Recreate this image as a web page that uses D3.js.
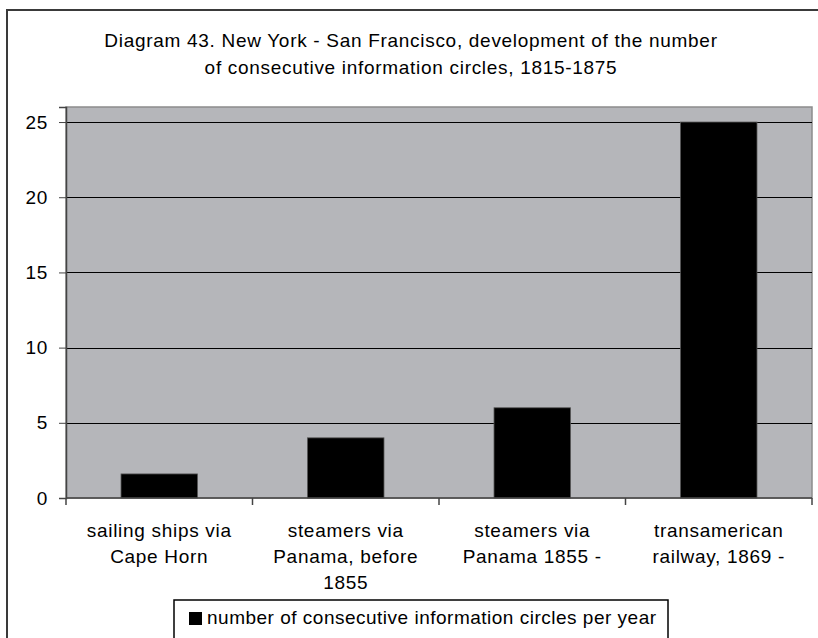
<!DOCTYPE html>
<html><head><meta charset="utf-8">
<script src="https://cdn.jsdelivr.net/npm/d3@7"></script>
<style>body{margin:0;background:#fff;overflow:hidden}svg{display:block}text{font-family:"Liberation Sans",Arial,sans-serif;fill:#000;letter-spacing:0.7px}</style>
</head><body>
<script>
const titleLines = ["Diagram 43. New York - San Francisco, development of the number","of consecutive information circles, 1815-1875"];
const categories = ["sailing ships via\nCape Horn","steamers via\nPanama, before\n1855","steamers via\nPanama 1855 -","transamerican\nrailway, 1869 -"];
const values = [1.6, 4, 6, 25];
const yTicks = [0,5,10,15,20,25];
const seriesName = "number of consecutive information circles per year";

const W=818,H=638,FS=19;
const svg=d3.select("body").append("svg").attr("width",W).attr("height",H);
// outer frame (right and bottom edges fall outside the picture)
svg.append("rect").attr("x",7).attr("y",10).attr("width",840).attr("height",660)
  .attr("fill","#fff").attr("stroke","#3a3a3a").attr("stroke-width",2);

const L=66,R=812,T=107,B=498;
const x=d3.scaleBand().domain(categories).range([L,R]).paddingInner(0.59).paddingOuter(0.295);
const y=d3.scaleLinear().domain([0,26]).range([B,T]);

svg.append("rect").attr("x",L).attr("y",T).attr("width",R-L).attr("height",B-T)
  .attr("fill","#b5b6ba").attr("stroke","#8c8c8c").attr("stroke-width",1.5);

// gridlines
svg.append("g").selectAll("line").data(yTicks.filter(d=>d>0)).join("line")
  .attr("x1",L).attr("x2",R).attr("y1",d=>Math.round(y(d))+0.5).attr("y2",d=>Math.round(y(d))+0.5)
  .attr("stroke","#000").attr("stroke-width",1);

// bars
svg.append("g").selectAll("rect").data(values).join("rect")
  .attr("x",(d,i)=>x(categories[i])).attr("width",x.bandwidth())
  .attr("y",d=>y(d)).attr("height",d=>B-y(d))
  .attr("fill","#000").attr("stroke","#555").attr("stroke-width",0.8);

// y axis
const yAxis=d3.axisLeft(y).tickValues(yTicks).tickSize(7).tickPadding(11);
const gy=svg.append("g").attr("transform",`translate(${L},0)`).call(yAxis);
gy.select(".domain").attr("stroke","#444").attr("stroke-width",1.5);
gy.selectAll(".tick line").attr("stroke","#444");
gy.selectAll("text").attr("font-size",FS).attr("font-family",null).style("fill","#000");

// x axis with ticks at category boundaries
const gx=svg.append("g").attr("transform",`translate(0,${B})`);
gx.append("line").attr("x1",L).attr("x2",R).attr("y1",0).attr("y2",0).attr("stroke","#444").attr("stroke-width",1.5);
const bounds=d3.range(categories.length+1).map(i=>L+i*(R-L)/categories.length);
gx.selectAll("line.tk").data(bounds).join("line").attr("class","tk")
  .attr("x1",d=>d).attr("x2",d=>d).attr("y1",0).attr("y2",7).attr("stroke","#444").attr("stroke-width",1.5);
const lab=gx.selectAll("text.cat").data(categories).join("text").attr("class","cat")
  .attr("text-anchor","middle").attr("font-size",FS)
  .attr("x",d=>x(d)+x.bandwidth()/2).attr("y",39);
lab.selectAll("tspan").data(d=>d.split("\n")).join("tspan")
  .attr("x",function(){return d3.select(this.parentNode).attr("x");})
  .attr("dy",(d,i)=>i===0?0:26).text(d=>d);

// title
svg.append("text").attr("text-anchor","middle").attr("font-size",FS)
  .selectAll("tspan").data(titleLines).join("tspan")
  .attr("x",411).attr("y",(d,i)=>47+i*27).text(d=>d);

// legend (bottom edge falls outside the picture)
const lg=svg.append("g");
lg.append("rect").attr("x",174).attr("y",600).attr("width",494).attr("height",60)
  .attr("fill","#fff").attr("stroke","#000").attr("stroke-width",1.5);
lg.append("rect").attr("x",189).attr("y",612).attr("width",13).attr("height",13).attr("fill","#000");
lg.append("text").attr("x",207).attr("y",624).attr("font-size",FS).style("letter-spacing","0.5px").text(seriesName);
</script>
</body></html>
